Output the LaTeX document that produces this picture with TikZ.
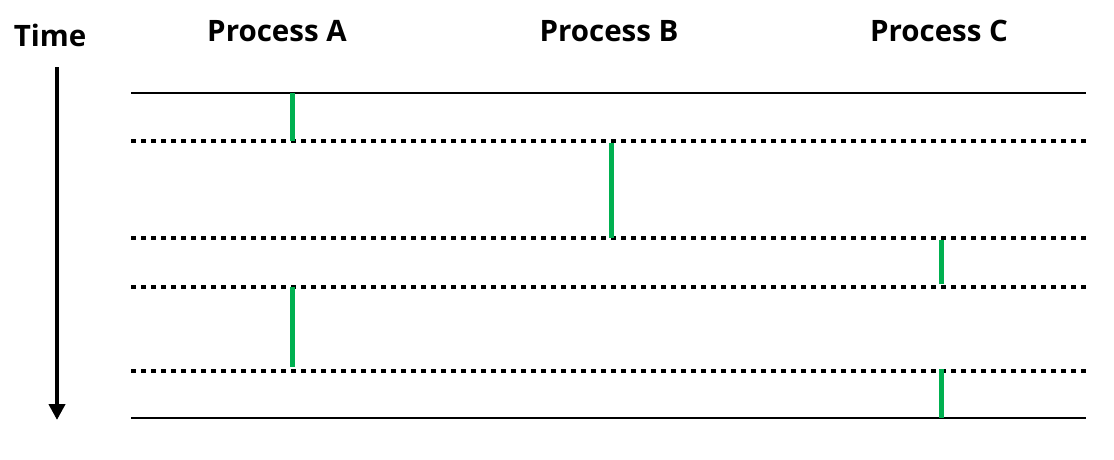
\documentclass[tikz,border=0pt]{standalone}
\usepackage{fontspec}
\setmainfont{Open Sans}[BoldFont={* Bold}]
\usetikzlibrary{arrows.meta}
\definecolor{bargreen}{HTML}{00B050}
\begin{document}
\begin{tikzpicture}[x=1pt,y=-1pt,
  lbl/.style={font=\bfseries\fontsize{29.5}{32}\selectfont, inner sep=0pt, anchor=base},
  solidline/.style={line width=1.5pt, black},
  dotline/.style={line width=4.5pt, black, dash pattern=on 4.5pt off 5.5pt},
  bar/.style={line width=5pt, bargreen},
  timearrow/.style={line width=4pt, -{Triangle[length=16pt,width=16pt]}}]
\useasboundingbox (0,0) rectangle (1114,459);
% labels
\node[lbl] (time) at (50,46) {Time};
\node[lbl] (pa) at (277,41) {Process A};
\node[lbl] (pb) at (609,41) {Process B};
\node[lbl] (pc) at (939,41) {Process C};
% time arrow
\coordinate (t0) at (57,67);
\coordinate (t1) at (57,420);
\draw[timearrow] (t0) -- (t1);
% horizontal lines
\draw[solidline] (131,93) -- (1086,93);
\draw[solidline] (131,418) -- (1086,418);
\foreach \y in {141,238,287,371}
  \draw[dotline] (131,\y) -- (1090,\y);
% green bars
\draw[bar] (292,93) -- (292,141);
\draw[bar] (292,287) -- (292,367);
\draw[bar] (611,143) -- (611,238);
\draw[bar] (941,240) -- (941,284);
\draw[bar] (941,369) -- (941,418);
\end{tikzpicture}
\end{document}
